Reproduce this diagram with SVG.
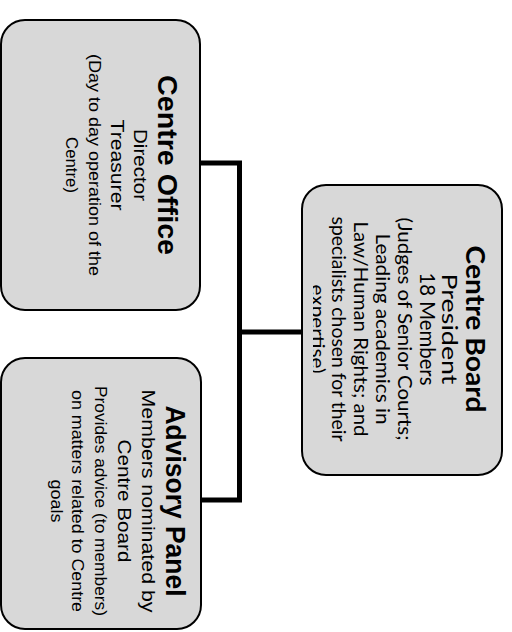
<svg xmlns="http://www.w3.org/2000/svg" width="512" height="632" viewBox="0 0 512 632">
  <style>
    .box { fill: #d8d8d8; stroke: #000; stroke-width: 2; }
    .conn { fill: none; stroke: #000; stroke-width: 5; stroke-linejoin: miter; }
    .a { font-family: "Liberation Sans", Arial, sans-serif; fill: #000; text-anchor: middle; }
    .c { font-family: Lato, "Open Sans", sans-serif; fill: #000; text-anchor: middle; }
    .t { font-weight: bold; }
  </style>
  <defs>
    <clipPath id="cbClip"><rect x="313" y="185" width="190" height="290"/></clipPath>
  </defs>
  <rect x="0" y="0" width="512" height="632" fill="#fff"/>

  <g id="connectors">
    <path class="conn" d="M200,163 H239.5 V500 H201"/>
    <path class="conn" d="M239.5,332 H302"/>
  </g>

  <g id="centre-office">
    <rect class="box" x="1" y="20" width="199" height="290" rx="24" ry="24"/>
    <g transform="translate(200,165) rotate(90)">
      <text class="a t" x="0" y="42" font-size="27" textLength="180" lengthAdjust="spacingAndGlyphs">Centre Office</text>
      <text class="a" x="0" y="66" font-size="18" textLength="72" lengthAdjust="spacingAndGlyphs">Director</text>
      <text class="a" x="0" y="89" font-size="18" textLength="91" lengthAdjust="spacingAndGlyphs">Treasurer</text>
      <text class="a" x="0" y="111" font-size="16" textLength="222" lengthAdjust="spacingAndGlyphs">(Day to day operation of the</text>
      <text class="a" x="0" y="134" font-size="16" textLength="56" lengthAdjust="spacingAndGlyphs">Centre)</text>
    </g>
  </g>

  <g id="advisory-panel">
    <rect class="box" x="1" y="358" width="200" height="271" rx="24" ry="24"/>
    <g transform="translate(200,501) rotate(90)">
      <text class="a t" x="0" y="34" font-size="27" textLength="191" lengthAdjust="spacingAndGlyphs">Advisory Panel</text>
      <text class="a" x="0" y="58" font-size="19" textLength="223" lengthAdjust="spacingAndGlyphs">Members nominated by</text>
      <text class="a" x="0" y="82" font-size="19" textLength="123" lengthAdjust="spacingAndGlyphs">Centre Board</text>
      <text class="a" x="0" y="105" font-size="16" textLength="230" lengthAdjust="spacingAndGlyphs">Provides advice (to members)</text>
      <text class="a" x="0" y="128" font-size="16" textLength="222" lengthAdjust="spacingAndGlyphs">on matters related to Centre</text>
      <text class="a" x="0" y="149" font-size="16" textLength="43" lengthAdjust="spacingAndGlyphs">goals</text>
    </g>
  </g>

  <g id="centre-board">
    <rect class="box" x="302" y="185" width="200" height="290" rx="24" ry="24"/>
    <g clip-path="url(#cbClip)">
      <g transform="translate(500,329) rotate(90)">
        <text class="c t" x="0" y="34" font-size="26" textLength="167" lengthAdjust="spacingAndGlyphs">Centre Board</text>
        <text class="c" x="0" y="58" font-size="21" textLength="111" lengthAdjust="spacingAndGlyphs">President</text>
        <text class="c" x="0" y="80" font-size="21" textLength="113" lengthAdjust="spacingAndGlyphs">18 Members</text>
        <text class="c" x="0" y="102" font-size="20" textLength="223" lengthAdjust="spacingAndGlyphs">(Judges of Senior Courts;</text>
        <text class="c" x="0" y="124" font-size="20" textLength="191" lengthAdjust="spacingAndGlyphs">Leading academics in</text>
        <text class="c" x="0" y="146" font-size="20" textLength="215" lengthAdjust="spacingAndGlyphs">Law/Human Rights; and</text>
        <text class="c" x="0" y="168" font-size="20" textLength="225" lengthAdjust="spacingAndGlyphs">specialists chosen for their</text>
        <text class="c" x="0" y="189" font-size="20" textLength="89" lengthAdjust="spacingAndGlyphs">expertise)</text>
      </g>
    </g>
  </g>
</svg>
